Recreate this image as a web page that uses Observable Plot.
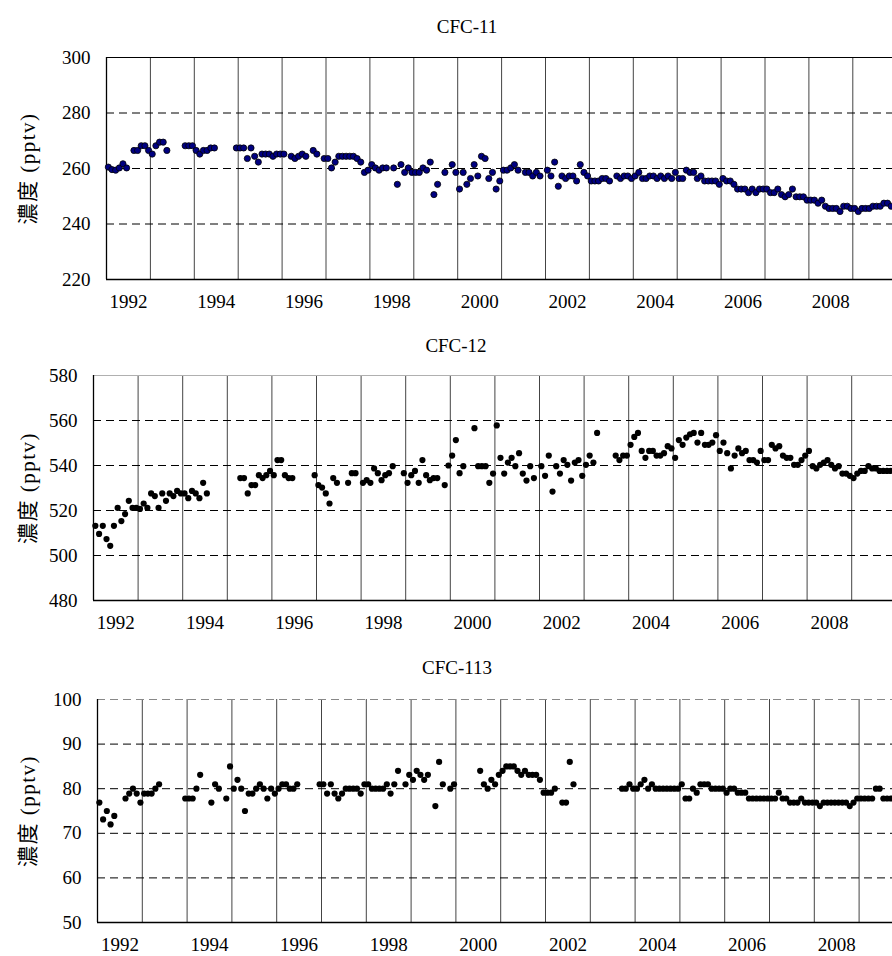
<!DOCTYPE html>
<html><head><meta charset="utf-8">
<script src="https://cdn.jsdelivr.net/npm/d3@7"></script>
<script src="https://cdn.jsdelivr.net/npm/@observablehq/plot@0.6"></script>
<style>
body{margin:0;background:#fff;}
#wrap{position:relative;width:892px;height:956px;overflow:hidden;font-family:"Liberation Serif","Noto Sans CJK TC",serif;color:#000;}
.title{position:absolute;transform:translate(-50%,-50%);font-size:19px;white-space:nowrap;}
.panel{position:absolute;left:0;}
.panel svg, .panel svg text{font-family:"Liberation Serif","Noto Sans CJK TC",serif !important;}
.panel g[aria-label="text"] text{letter-spacing:1.5px;}
</style></head><body><div id="wrap"></div>
<script>
// Monthly values, starting January 1992 (null = no measurement)
const titles = ["CFC-11", "CFC-12", "CFC-113"];
const yLabel = "濃度 (pptv)";
const tickYears = [1992, 1994, 1996, 1998, 2000, 2002, 2004, 2006, 2008];
const yearLines = [1993,1994,1995,1996,1997,1998,1999,2000,2001,2002,2003,2004,2005,2006,2007,2008,2009];

const cfc11Ticks = [220, 240, 260, 280, 300];
const cfc12Ticks = [480, 500, 520, 540, 560, 580];
const cfc113Ticks = [50, 60, 70, 80, 90, 100];

const cfc11 = [
  260.5,259.6,259.4,260.2,261.7,260.2,null,266.5,266.5,268.2,268.2,266.5,
  265.2,268.2,269.5,269.5,266.5,null,null,null,null,268.2,268.2,268.2,
  266.5,265.2,266.5,266.5,267.4,267.4,null,null,null,null,null,267.4,
  267.4,267.4,263.6,267.4,264.4,262.3,265.2,265.2,265.2,264.4,265.2,265.2,
  265.2,null,264.4,263.6,264.4,265.2,264.4,null,266.5,265.2,null,263.6,
  263.6,260.2,262.3,264.4,264.4,264.4,264.4,264.4,263.6,262.3,258.6,259.4,
  261.4,260.2,259.4,260.2,260.2,null,260.2,254.3,261.4,258.6,260.2,258.6,
  258.6,258.6,260.2,259.4,262.3,250.6,254.3,null,258.6,null,261.4,258.6,
  252.6,258.6,254.3,256.4,261.4,257.3,264.4,263.6,256.4,258.6,252.6,255.5,
  259.4,259.4,260.2,261.4,259.4,null,258.6,258.6,257.3,258.6,257.3,null,
  259.4,257.3,262.3,253.6,257.3,256.4,257.3,257.3,255.5,261.4,258.6,257.3,
  255.5,255.5,255.5,256.4,256.4,255.5,null,257.3,256.4,257.3,257.3,256.4,
  257.3,258.6,256.4,256.4,257.3,257.3,256.4,257.3,256.4,257.3,256.4,258.6,
  256.4,256.4,259.4,258.6,258.6,256.4,257.3,255.5,255.5,255.5,255.5,254.3,
  256.4,255.5,255.5,254.3,252.6,252.6,252.6,251.3,252.6,251.3,252.6,252.6,
  252.6,251.3,251.3,252.6,250.6,249.8,250.6,252.6,249.8,249.8,249.8,248.6,
  248.6,248.6,247.5,248.6,246.4,245.6,245.6,245.6,244.5,246.4,246.4,245.6,
  245.6,244.5,245.6,245.6,245.6,246.4,246.4,246.4,247.5,247.5,246.4
];

const cfc12 = [
  513.2,509.6,513.2,507.3,504.3,513.2,521.2,515.3,518.4,524.3,521.2,521.2,
  520.7,523.1,521.2,527.6,526.4,521.2,527.6,524.3,527.6,526.4,528.7,527.6,
  527.6,525.5,528.7,527.6,525.5,532.3,527.6,null,null,null,null,null,
  null,null,null,534.4,534.4,527.6,531.3,531.3,535.7,534.4,535.7,537.6,
  535.7,542.4,542.4,535.7,534.4,534.4,null,null,null,null,null,535.7,
  531.3,530.2,527.6,523.1,534.4,532.3,null,null,532.3,536.6,536.6,null,
  532.3,533.5,532.3,538.7,536.6,533.5,535.7,536.6,539.7,null,null,536.6,
  532.3,535.7,537.6,532.3,542.4,535.7,533.5,534.4,534.4,null,531.3,540.0,
  544.4,551.3,536.6,539.7,null,null,556.6,539.7,539.7,539.7,532.3,536.4,
  557.8,543.4,536.4,541.3,543.4,539.7,545.5,536.4,533.3,539.7,534.4,null,
  539.7,535.4,544.4,528.4,539.7,536.4,542.4,540.3,533.3,541.3,542.4,535.4,
  540.3,544.4,541.3,554.5,null,null,null,null,544.4,542.4,544.4,544.4,
  549.2,552.7,554.5,546.5,543.4,546.5,546.5,544.4,544.4,545.5,548.6,547.6,
  543.4,551.3,549.2,552.4,553.9,554.5,550.2,554.5,549.2,549.2,550.2,553.5,
  546.5,550.2,545.5,538.7,544.4,547.6,545.5,546.5,542.4,542.4,541.3,546.5,
  542.4,542.4,549.2,547.6,548.6,544.4,543.4,543.4,540.3,540.3,542.4,544.4,
  546.5,539.7,538.7,540.3,541.3,542.4,540.3,538.7,539.7,536.4,536.4,535.4,
  534.4,536.4,537.6,537.6,539.7,538.7,538.7,537.6,537.6,537.6,537.6
];

const cfc113 = [
  76.9,73.1,75.0,72.0,73.9,null,null,77.8,78.9,80.0,78.9,76.9,
  78.9,78.9,78.9,80.0,81.0,null,null,null,null,null,null,77.8,
  77.8,77.8,80.0,83.1,null,null,76.9,81.0,80.0,null,77.8,85.0,
  80.0,82.0,80.0,75.0,78.9,78.9,80.0,81.0,80.0,77.8,80.0,78.9,
  80.0,81.0,81.0,80.0,80.0,81.0,null,null,null,null,null,81.0,
  81.0,78.9,81.0,78.9,77.8,78.9,80.0,80.0,80.0,80.0,78.9,81.0,
  81.0,80.0,80.0,80.0,80.0,81.0,78.9,81.0,84.0,null,81.0,83.1,
  82.0,84.0,83.1,82.0,83.1,null,76.1,86.0,81.0,null,80.0,81.0,
  null,null,null,null,null,null,84.0,81.0,80.0,82.0,81.0,83.1,
  84.0,85.0,85.0,85.0,84.0,83.1,84.0,83.1,83.1,83.1,82.0,79.1,
  79.1,79.1,80.0,null,76.9,76.9,86.0,81.0,null,null,null,null,
  null,null,null,null,null,null,null,null,80.0,80.0,81.0,80.0,
  80.0,81.0,82.0,80.0,81.0,80.0,80.0,80.0,80.0,80.0,80.0,80.0,
  81.0,77.8,77.8,80.0,79.1,81.0,81.0,81.0,80.0,80.0,80.0,80.0,
  79.1,80.0,80.0,79.1,79.1,79.1,77.8,77.8,77.8,77.8,77.8,77.8,
  77.8,77.8,79.1,77.8,77.8,76.9,76.9,76.9,77.8,76.9,76.9,76.9,
  76.9,76.1,76.9,76.9,76.9,76.9,76.9,76.9,76.9,76.1,76.9,77.8,
  77.8,77.8,77.8,77.8,80.0,80.0,77.8,77.8,77.8
];

const FONT = '"Liberation Serif","Noto Sans CJK TC",serif';
const wrap = document.getElementById("wrap");

function makePanel(cfg) {
  const rows = cfg.values.map((v, i) => ({t: 1992 + (i + 0.5) / 12, v})).filter(d => d.v != null);
  const yMin = cfg.ticks[0], yMax = cfg.ticks[cfg.ticks.length - 1];
  const grid = cfg.ticks.slice(1, -1);
  const chart = Plot.plot({
    width: 892,
    height: cfg.height,
    marginTop: cfg.marginTop,
    marginBottom: cfg.marginBottom,
    marginLeft: cfg.marginLeft,
    marginRight: 0,
    style: `font-family: ${FONT}; font-size: 19px; color: #000; background: #fff; overflow: visible;`,
    x: {domain: [1992, cfg.xEnd], axis: null},
    y: {domain: [yMin, yMax], axis: null},
    marks: [
      Plot.ruleX(yearLines, {stroke: "#444", strokeWidth: 1}),
      Plot.ruleY(grid, {stroke: "#000", strokeWidth: 1, strokeDasharray: "8,5"}),
      Plot.ruleY([yMax], {stroke: cfg.topStroke, strokeWidth: 1.2, strokeDasharray: cfg.topDash}),
      Plot.ruleY([yMin], {stroke: "#000", strokeWidth: 1.3}),
      Plot.ruleX([1992], {stroke: "#000", strokeWidth: 1.3}),
      Plot.axisY(cfg.ticks, {label: null, tickSize: 0, tickPadding: 16, fontSize: 19, fontFamily: FONT}),
      Plot.axisX(tickYears.map(y => y + 0.5), {label: null, tickSize: 0, tickPadding: 15, fontSize: 19, fontFamily: FONT, tickFormat: d => String(Math.floor(d))}),
      Plot.text([yLabel], {x: () => 1992, y: () => (yMin + yMax) / 2, text: d => d, rotate: -90,
        textAnchor: "middle", lineAnchor: "middle", dx: -(cfg.marginLeft - 28), fontSize: 21, fontFamily: FONT}),
      Plot.dot(rows, {x: "t", y: "v", r: 3.1, fill: cfg.fill, stroke: cfg.dotStroke, strokeWidth: 0.8})
    ]
  });
  const holder = document.createElement("div");
  holder.className = "panel";
  holder.style.top = cfg.top + "px";
  holder.appendChild(chart);
  wrap.appendChild(holder);
  const t = document.createElement("div");
  t.className = "title";
  t.textContent = cfg.title;
  t.style.left = cfg.titleX + "px";
  t.style.top = cfg.titleY + "px";
  wrap.appendChild(t);
}

makePanel({values: cfc11, ticks: cfc11Ticks, top: 0, height: 320, marginTop: 57, marginBottom: 41, marginLeft: 106,
  xEnd: 1992 + (892 - 106) / 43.9, fill: "#000080", dotStroke: "#000", topStroke: "#000", topDash: null,
  title: titles[0], titleX: 467, titleY: 27});
makePanel({values: cfc12, ticks: cfc12Ticks, top: 320, height: 320, marginTop: 55, marginBottom: 40, marginLeft: 93,
  xEnd: 1992 + (892 - 93) / 44.6, fill: "#000", dotStroke: "none", topStroke: "#b0b0b0", topDash: null,
  title: titles[1], titleX: 456, titleY: 346});
makePanel({values: cfc113, ticks: cfc113Ticks, top: 640, height: 316, marginTop: 59, marginBottom: 34, marginLeft: 97,
  xEnd: 1992 + (892 - 97) / 44.8, fill: "#000", dotStroke: "none", topStroke: "#888", topDash: "8,5",
  title: titles[2], titleX: 457, titleY: 668});
</script>
</body></html>
